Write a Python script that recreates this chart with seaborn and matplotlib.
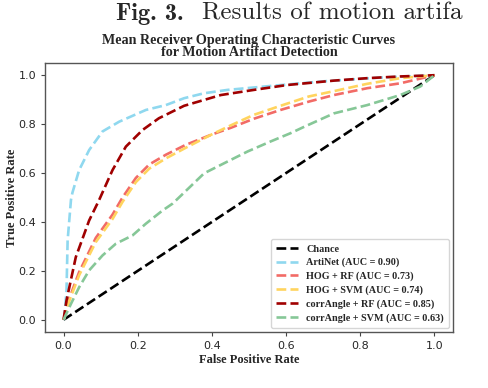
import matplotlib
matplotlib.use("Agg")
import matplotlib.pyplot as plt
import seaborn as sns

# ---- data ----
chance_fpr = [0.0, 1.0]
chance_tpr = [0.0, 1.0]

artinet_fpr = [0.0, 0.002, 0.008, 0.011, 0.020, 0.024, 0.042, 0.069, 0.105, 0.150, 0.222, 0.276, 0.325, 0.378, 0.442, 0.55, 0.70, 0.85, 1.0]
artinet_tpr = [0.0, 0.004, 0.12, 0.325, 0.49, 0.52, 0.612, 0.694, 0.77, 0.81, 0.858, 0.878, 0.906, 0.926, 0.94, 0.955, 0.975, 0.99, 1.0]

hogrf_fpr = [0.0, 0.015, 0.042, 0.087, 0.132, 0.159, 0.195, 0.231, 0.276, 0.329, 0.397, 0.451, 0.513, 0.585, 0.661, 0.729, 0.819, 0.908, 1.0]
hogrf_tpr = [0.0, 0.085, 0.195, 0.335, 0.43, 0.50, 0.58, 0.635, 0.675, 0.715, 0.756, 0.785, 0.822, 0.858, 0.892, 0.919, 0.947, 0.967, 1.0]

hogsvm_fpr = [0.0, 0.015, 0.042, 0.087, 0.132, 0.159, 0.195, 0.231, 0.276, 0.329, 0.397, 0.451, 0.513, 0.585, 0.661, 0.729, 0.819, 0.908, 1.0]
hogsvm_tpr = [0.0, 0.075, 0.182, 0.318, 0.412, 0.482, 0.563, 0.618, 0.66, 0.703, 0.756, 0.795, 0.838, 0.875, 0.913, 0.935, 0.965, 0.988, 1.0]

crf_fpr = [0.0, 0.008, 0.033, 0.069, 0.096, 0.132, 0.168, 0.213, 0.257, 0.325, 0.424, 0.513, 0.603, 0.729, 0.819, 0.908, 1.0]
crf_tpr = [0.0, 0.079, 0.256, 0.406, 0.49, 0.612, 0.708, 0.776, 0.824, 0.875, 0.919, 0.94, 0.96, 0.978, 0.988, 0.995, 1.0]

csvm_fpr = [0.0, 0.020, 0.042, 0.069, 0.105, 0.141, 0.186, 0.222, 0.267, 0.294, 0.325, 0.379, 0.442, 0.496, 0.558, 0.612, 0.650, 0.729, 0.819, 0.908, 0.962, 1.0]
csvm_tpr = [0.0, 0.065, 0.133, 0.202, 0.263, 0.311, 0.345, 0.393, 0.447, 0.475, 0.52, 0.599, 0.647, 0.688, 0.729, 0.763, 0.79, 0.844, 0.878, 0.919, 0.954, 1.0]

labels = ["Chance", "ArtiNet (AUC = 0.90)", "HOG + RF (AUC = 0.73)", "HOG + SVM (AUC = 0.74)",
          "corrAngle + RF (AUC = 0.85)", "corrAngle + SVM (AUC = 0.63)"]
colors = ["#000000", "#8fd8ef", "#f26b66", "#ffd45e", "#a00000", "#86c797"]
series = [(chance_fpr, chance_tpr), (artinet_fpr, artinet_tpr), (hogrf_fpr, hogrf_tpr),
          (hogsvm_fpr, hogsvm_tpr), (crf_fpr, crf_tpr), (csvm_fpr, csvm_tpr)]

caption_bold = "Fig. 3."
caption_rest = "Results of motion artifa"

sns.set_style("ticks")
serif = ["Liberation Serif", "DejaVu Serif"]

fig = plt.figure(figsize=(4.88, 3.88), dpi=100)
ax = fig.add_axes([45 / 488, 1 - 332 / 388, 408 / 488, 269 / 388])

for (fx, ty), lab, col in zip(series, labels, colors):
    sns.lineplot(x=fx, y=ty, ax=ax, color=col, linestyle="--", linewidth=1.9,
                 label=lab, sort=False, estimator=None)

ax.set_xlim(-0.05, 1.05)
ax.set_ylim(-0.05, 1.05)
ax.set_xticks([0.0, 0.2, 0.4, 0.6, 0.8, 1.0])
ax.set_yticks([0.0, 0.2, 0.4, 0.6, 0.8, 1.0])
ax.tick_params(labelsize=8, length=3, width=0.8, color="#444444")
for t in ax.get_xticklabels() + ax.get_yticklabels():
    t.set_family("DejaVu Sans")
for s in ax.spines.values():
    s.set_visible(True)
    s.set_linewidth(1.0)
    s.set_color("#555555")

ax.set_xlabel("False Positive Rate", fontsize=9, fontweight="bold", family=serif, labelpad=2)
ax.set_ylabel("True Positive Rate", fontsize=9, fontweight="bold", family=serif, labelpad=0.5)
ax.set_title("Mean Receiver Operating Characteristic Curves\nfor Motion Artifact Detection",
             fontsize=10.2, fontweight="bold", family=serif, linespacing=0.95, pad=5)

leg = ax.legend(loc="lower right", prop={"family": serif, "weight": "bold", "size": 7.3},
                handlelength=2.2, borderpad=0.5, labelspacing=0.42, frameon=True,
                fancybox=True, edgecolor="#cccccc", borderaxespad=0.4)

fig.text(116 / 488, 1 - 20 / 388, caption_bold, family="cmb10", fontsize=17.5, va="baseline", ha="left")
fig.text(202 / 488, 1 - 20 / 388, caption_rest, family="cmr10",
         fontsize=18, va="baseline", ha="left")

fig.savefig("out.png", dpi=100)
